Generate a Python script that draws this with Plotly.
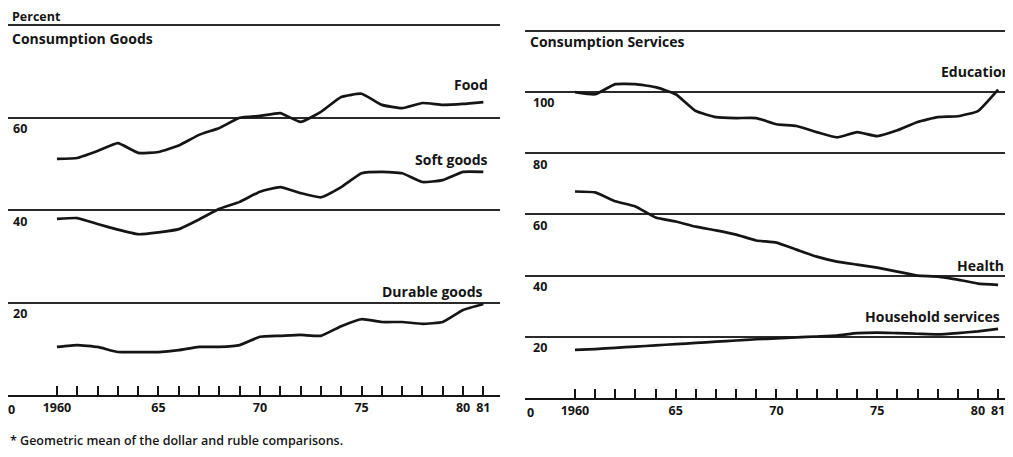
import plotly.graph_objects as go

years = list(range(1960, 1982))

food = [51.1, 51.3, 52.8, 54.5, 52.4, 52.6, 54.0, 56.3, 57.8, 60.0, 60.4,
        61.0, 59.1, 61.3, 64.5, 65.2, 62.8, 62.1, 63.2, 62.8, 63.0, 63.4]
soft_goods = [38.1, 38.3, 37.0, 35.8, 34.8, 35.2, 35.9, 38.0, 40.3, 41.8, 44.0,
              45.0, 43.7, 42.8, 45.0, 48.0, 48.3, 48.0, 46.1, 46.5, 48.3, 48.3]
durable_goods = [10.4, 10.8, 10.4, 9.3, 9.3, 9.3, 9.7, 10.4, 10.4, 10.8, 12.6,
                 12.8, 13.0, 12.8, 14.9, 16.4, 15.8, 15.8, 15.4, 15.8, 18.4, 19.7]

education = [100.0, 99.3, 102.6, 102.6, 101.6, 99.3, 93.8, 91.8, 91.5, 91.5, 89.5,
             88.9, 86.9, 85.2, 86.9, 85.6, 87.5, 90.2, 91.8, 92.1, 93.8, 100.8]
health = [67.5, 67.2, 64.3, 62.6, 59.0, 57.7, 56.0, 54.8, 53.4, 51.5, 50.8,
          48.5, 46.2, 44.6, 43.6, 42.6, 41.3, 40.0, 39.7, 38.7, 37.4, 37.0]
household_services = [15.7, 16.0, 16.4, 16.8, 17.2, 17.6, 18.0, 18.4, 18.8, 19.2, 19.5,
                      19.8, 20.1, 20.4, 21.2, 21.4, 21.2, 21.0, 20.8, 21.2, 21.8, 22.6]

year_labels = {1960: "1960", 1965: "65", 1970: "70", 1975: "75", 1980: "80", 1981: "81"}
left_yticks = [20, 40, 60, 80]
left_ylabels = ["20", "40", "60", ""]
right_yticks = [20, 40, 60, 80, 100, 120]
right_ylabels = ["20", "40", "60", "80", "100", ""]

# page body has an 8px margin; figure sized to fill the rest of the window
OFF = 8
W, H = 1013 - OFF, 457 - OFF
FONT = "Open Sans"
INK = "#151515"

def px_x(p):
    return (p - OFF) / W

def px_y(p):
    return (H - (p - OFF)) / H

fig = go.Figure()

line_style = dict(color=INK, width=2.7, shape="spline", smoothing=0.4)
for name, vals in [("Food", food), ("Soft goods", soft_goods), ("Durable goods", durable_goods)]:
    fig.add_trace(go.Scatter(x=years, y=vals, mode="lines", line=line_style, name=name,
                             xaxis="x", yaxis="y", showlegend=False))
for name, vals in [("Education", education), ("Health", health),
                   ("Household services", household_services)]:
    fig.add_trace(go.Scatter(x=years, y=vals, mode="lines", line=line_style, name=name,
                             xaxis="x2", yaxis="y2", showlegend=False))

tick_font = dict(family=FONT, size=12.5, color=INK, weight="bold")
tick_text = [year_labels.get(y, "") for y in years]
xcommon = dict(tickmode="array", tickvals=years, ticktext=tick_text, ticks="inside",
               ticklen=9, tickwidth=1.5, tickcolor=INK, showline=True, linecolor=INK,
               linewidth=2, showgrid=False, zeroline=False, tickfont=tick_font)
ycommon = dict(tickmode="array", showgrid=True, gridcolor="#2a2a2a", gridwidth=1.8,
               zeroline=False, showline=False, ticks="", ticklabelposition="inside",
               ticklabelshift=11, tickfont=tick_font)

fig.update_layout(
    width=W, height=H, margin=dict(l=0, r=0, t=0, b=0),
    paper_bgcolor="white", plot_bgcolor="white",
    xaxis=dict(domain=[0.0, px_x(500)], range=[1957.59, 1981.82], anchor="y", **xcommon),
    yaxis=dict(domain=[px_y(395), px_y(24)], range=[0, 80.3], anchor="x",
               tickvals=left_yticks, ticktext=left_ylabels, ticklabelstandoff=2, **ycommon),
    xaxis2=dict(domain=[px_x(525), 1.0], range=[1957.52, 1981.74], anchor="y2", **xcommon),
    yaxis2=dict(domain=[px_y(398), px_y(26)], range=[0, 121.6], anchor="x2",
                tickvals=right_yticks, ticktext=right_ylabels, ticklabelstandoff=5, **ycommon),
)

ann_font = dict(family=FONT, size=14, color=INK, weight="bold")
series_labels = [
    ("Food", "x", "y", 1981.33, 67.3),
    ("Soft goods", "x", "y", 1981.33, 50.9),
    ("Durable goods", "x", "y", 1981.1, 22.5),
    ("Education", "x2", "y2", 1981.72, 106.6),
    ("Health", "x2", "y2", 1981.4, 43.2),
    ("Household services", "x2", "y2", 1981.2, 26.8),
]
for text, xr, yr, xv, yv in series_labels:
    fig.add_annotation(text=text, x=xv, y=yv, xref=xr, yref=yr, xanchor="right",
                       yanchor="middle", showarrow=False, font=ann_font)

# origin "0" labels
fig.add_annotation(text="0", x=1957.59, y=0, xref="x", yref="y", xanchor="left",
                   yanchor="top", yshift=-4, xshift=-2, showarrow=False, font=tick_font)
fig.add_annotation(text="0", x=1957.52, y=0, xref="x2", yref="y2", xanchor="left",
                   yanchor="top", yshift=-4, xshift=0, showarrow=False, font=tick_font)

title_font = dict(family=FONT, size=14, color=INK, weight="bold")
fig.add_annotation(text="Percent", x=px_x(10), y=px_y(16), xref="paper", yref="paper",
                   xanchor="left", yanchor="middle", showarrow=False,
                   font=dict(family=FONT, size=12.5, color=INK, weight="bold"))
fig.add_annotation(text="Consumption Goods", x=px_x(10), y=px_y(38), xref="paper", yref="paper",
                   xanchor="left", yanchor="middle", showarrow=False, font=title_font)
fig.add_annotation(text="Consumption Services", x=px_x(528), y=px_y(42), xref="paper",
                   yref="paper", xanchor="left", yanchor="middle", showarrow=False,
                   font=title_font)
fig.add_annotation(text="* Geometric mean of the dollar and ruble comparisons.",
                   x=px_x(8), y=px_y(440), xref="paper", yref="paper", xanchor="left",
                   yanchor="middle", showarrow=False,
                   font=dict(family=FONT, size=12.5, color=INK, weight=600))

fig.write_html("out.html")
